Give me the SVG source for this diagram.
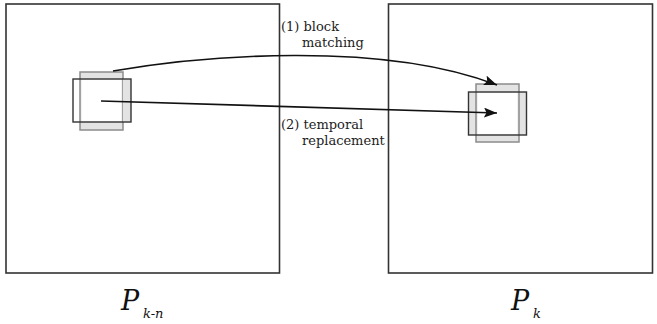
<svg xmlns="http://www.w3.org/2000/svg" width="657" height="324" viewBox="0 0 657 324">
<style>
.frame{fill:none;stroke:#333;stroke-width:1.6}
.gray{fill:#e3e3e3;stroke:#8c8c8c;stroke-width:1.5}
.grayfill{fill:#e3e3e3;stroke:none}
.white{fill:#fff;stroke:none}
.blk{fill:none;stroke:#333;stroke-width:1.4}
.conn{fill:none;stroke:#111;stroke-width:1.7}
.lbl{font-size:13px;fill:#222}
.pl{font-style:italic;fill:#111}
</style>
<defs>
<marker id="ah" markerUnits="userSpaceOnUse" markerWidth="14" markerHeight="11" refX="13" refY="5" orient="auto">
<path d="M0,0 L13,5 L0,10 L2.5,5 Z" fill="#111"/>
</marker>
</defs>
<g id="frame-left">
<rect class="frame" x="6" y="4" width="273.5" height="269"/>
<text class="pl" font-family="DejaVu Serif, serif" x="121" y="310" font-size="27">P</text>
<text class="pl" font-family="DejaVu Serif, serif" x="143" y="317.5" font-size="13">k-n</text>
</g>
<g id="frame-right">
<rect class="frame" x="388.5" y="4" width="264" height="269"/>
<text class="pl" font-family="DejaVu Serif, serif" x="511" y="310" font-size="27">P</text>
<text class="pl" font-family="DejaVu Serif, serif" x="533" y="317.5" font-size="13">k</text>
</g>
<g id="block-left">
<rect class="gray" x="80" y="72" width="43" height="58"/>
<rect class="grayfill" x="123" y="79" width="8" height="43"/>
<rect class="white" x="81.5" y="79.5" width="40" height="42"/>
<rect class="blk" x="73" y="79" width="58" height="43"/>
</g>
<g id="block-right">
<rect class="grayfill" x="468.5" y="92" width="58" height="43"/>
<rect class="gray" x="476" y="84" width="43" height="58"/>
<rect class="white" x="477.5" y="92.5" width="40" height="42"/>
<rect class="blk" x="468.5" y="92" width="58" height="43"/>
</g>
<g id="connectors">
<path class="conn" d="M113,71 C200,56 380,40 497,85" marker-end="url(#ah)"/>
<path class="conn" d="M101,101 L497,113" marker-end="url(#ah)"/>
</g>
<g id="labels" font-family="DejaVu Serif, serif">
<text class="lbl" x="281" y="31">(1) block</text>
<text class="lbl" x="302" y="47">matching</text>
<text class="lbl" x="281" y="129">(2) temporal</text>
<text class="lbl" x="302" y="145">replacement</text>
</g>
</svg>
